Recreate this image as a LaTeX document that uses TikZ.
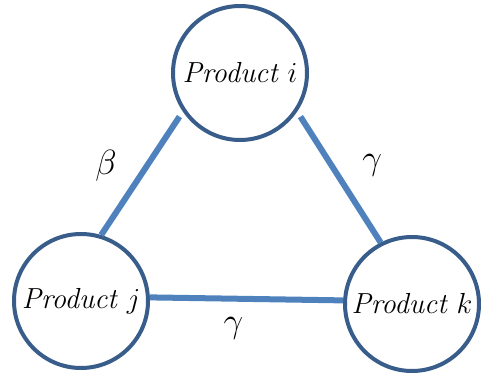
\RequirePackage{fix-cm}
\documentclass[tikz,border=0pt]{standalone}
\definecolor{ringblue}{RGB}{56,93,138}
\definecolor{linkblue}{RGB}{79,129,189}
\begin{document}
\begin{tikzpicture}[x=1pt,y=-1pt,line cap=butt,
	prod/.style={circle,draw=ringblue,line width=4pt,fill=white,minimum size=134pt,inner sep=0pt,font=\fontsize{29}{36}\selectfont},
	link/.style={draw=linkblue,line width=6pt},
	lab/.style={font=\fontsize{35}{40}\selectfont}]
	\useasboundingbox (0,0) rectangle (481,374);
	
	\node[prod] (pi) at (240,73) {\textit{Product} $i$};
	\node[prod] (pj) at (81,301) {\textit{Product} $j$};
	\node[prod] (pk) at (412,304) {\textit{Product} $k$};
	
	\draw[link,shorten <=6pt] (pi.214) -- (pj.73) node[lab,midway,left=19pt,yshift=8pt] (bij) {$\beta$};
	\draw[link,shorten <=6pt] (pi.326) -- (pk.117) node[lab,midway,right=17pt,yshift=12pt] (gik) {$\gamma$};
	\draw[link] (pj.3) -- (pk.177) node[lab,midway,below=12pt,xshift=-13pt] (gjk) {$\gamma$};
	
\end{tikzpicture}
\end{document}
